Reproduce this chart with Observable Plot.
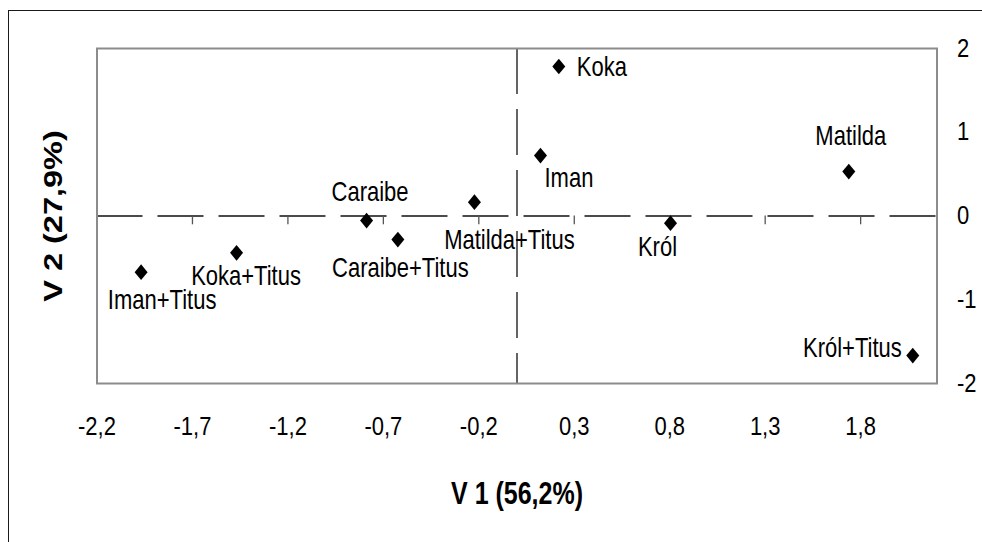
<!DOCTYPE html>
<html><head><meta charset="utf-8">
<script src="https://cdn.jsdelivr.net/npm/d3@7"></script>
<script src="https://cdn.jsdelivr.net/npm/@observablehq/plot@0.6"></script>
<style>
html,body{margin:0;padding:0;background:#fff;overflow:hidden;width:982px;height:542px;}
#wrap{position:relative;width:982px;height:542px;}
#wrap svg{position:absolute;left:0;top:0;}
#outer{position:absolute;left:8px;top:9.5px;width:1200px;height:800px;border-left:1.5px solid #1a1a1a;border-top:1.5px solid #1a1a1a;pointer-events:none;}
</style></head><body><div id="wrap"><div id="outer"></div></div>
<script>
// ---- data ----
const names = ["Koka","Iman","Matilda","Caraibe","Caraibe+Titus","Matilda+Titus","Król","Koka+Titus","Iman+Titus","Król+Titus"];
const v1 = [0.219, 0.123, 1.738, -0.788, -0.624, -0.223, 0.804, -1.469, -1.969, 2.073];
const v2 = [1.785, 0.722, 0.531, -0.054, -0.281, 0.165, -0.086, -0.439, -0.671, -1.666];
const xTicks = [-2.2, -1.7, -1.2, -0.7, -0.2, 0.3, 0.8, 1.3, 1.8];
const yTicks = [2, 1, 0, -1, -2];
const xTitle = "V 1 (56,2%)";
const yTitle = "V 2 (27,9%)";

// ---- label placement (pixel offsets from the marker) ----
const labelPlacement = {
  "Koka":          {dx: 18,  dy: 1,   anchor: "start"},
  "Iman":          {dx: 4,   dy: 23,  anchor: "start"},
  "Matilda":       {dx: 2,   dy: -35, anchor: "middle"},
  "Caraibe":       {dx: 3.5, dy: -28, anchor: "middle"},
  "Caraibe+Titus": {dx: 2.5, dy: 29,  anchor: "middle"},
  "Matilda+Titus": {dx: 35,  dy: 38,  anchor: "middle"},
  "Król":          {dx: -13, dy: 24,  anchor: "middle"},
  "Koka+Titus":    {dx: 9.5, dy: 23,  anchor: "middle"},
  "Iman+Titus":    {dx: 21,  dy: 28,  anchor: "middle"},
  "Król+Titus":    {dx: -11, dy: -7,  anchor: "end"}
};

const data = names.map((n, i) => ({name: n, x: v1[i], y: v2[i]}));
const fmt = d => String(d).replace(".", ",");
const font = "'Liberation Sans', Arial, Helvetica, sans-serif";

const diamond = {
  draw(ctx, size) {
    const w = Math.sqrt(size / Math.PI), h = w * 1.21;
    ctx.moveTo(0, -h); ctx.lineTo(w, 0); ctx.lineTo(0, h); ctx.lineTo(-w, 0); ctx.closePath();
  }
};

const labelMarks = data.map(d => {
  const p = labelPlacement[d.name];
  return Plot.text([d], {x: "x", y: "y", text: "name", dx: p.dx, dy: p.dy, textAnchor: p.anchor,
    lineAnchor: "middle", fontSize: 22, fill: "#000", ariaDescription: "point-label"});
});

const chart = Plot.plot({
  width: 982, height: 542,
  marginLeft: 96.5, marginRight: 45.5, marginTop: 48, marginBottom: 159,
  x: {domain: [-2.2, 2.2], axis: null},
  y: {domain: [-2, 2], axis: null},
  style: {fontFamily: font, background: "transparent", overflow: "visible"},
  marks: [
    Plot.ruleY([0], {stroke: "#111", strokeWidth: 1.3, strokeDasharray: "46,15"}),
    Plot.ruleX([0], {stroke: "#111", strokeWidth: 1.3, strokeDasharray: "46,15"}),
    Plot.ruleX(xTicks, {x: d => d, y1: 0, y2: -0.105, stroke: "#555", strokeWidth: 1.3}),
    Plot.frame({stroke: "#8c8c8c", strokeWidth: 2}),
    Plot.dot(data, {x: "x", y: "y", symbol: diamond, r: 6.5, fill: "#000", stroke: "none"}),
    ...labelMarks,
    Plot.text(xTicks, {x: d => d, text: fmt, frameAnchor: "bottom", dy: 43, lineAnchor: "middle",
      textAnchor: "middle", fontSize: 22, fill: "#000", ariaDescription: "x-tick-label"}),
    Plot.text(yTicks, {y: d => d, text: fmt, frameAnchor: "right", dx: 20, lineAnchor: "middle",
      textAnchor: "start", fontSize: 22, fill: "#000", ariaDescription: "y-tick-label"}),
    Plot.text([xTitle], {text: d => d, frameAnchor: "bottom", dy: 110, lineAnchor: "middle",
      textAnchor: "middle", fontSize: 25, fontWeight: "bold", fill: "#000", ariaDescription: "x-title"}),
    Plot.text([yTitle], {text: d => d, frameAnchor: "left", dx: -43.5, rotate: -90, lineAnchor: "middle",
      textAnchor: "middle", fontSize: 26, fontWeight: "bold", fill: "#000", ariaDescription: "y-title"})
  ]
});

// The reference's lettering is tall and narrow: stretch glyphs along the vertical.
function stretch(label, k, vertical) {
  chart.querySelectorAll(`g[aria-description='${label}'] text`).forEach(t => {
    let tr = t.getAttribute("transform");
    if (!tr) {
      const x = +t.getAttribute("x") || 0, y = +t.getAttribute("y") || 0;
      tr = `translate(${x},${y})`;
      t.removeAttribute("x"); t.removeAttribute("y");
    }
    t.setAttribute("transform", tr + (vertical ? ` scale(${k},1)` : ` scale(1,${k})`));
  });
}
stretch("point-label", 1.27, false);
stretch("x-tick-label", 1.17, false);
stretch("y-tick-label", 1.17, false);
stretch("x-title", 1.25, false);
stretch("y-title", 1.25, true);

document.getElementById("wrap").prepend(chart);
</script>
</body></html>
